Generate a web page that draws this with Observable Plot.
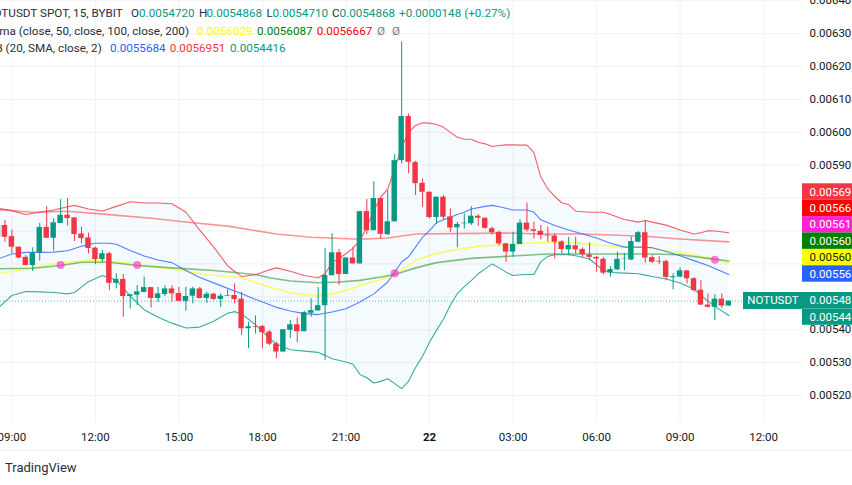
<!DOCTYPE html>
<html>
<head>
<meta charset="utf-8">
<script src="https://cdn.jsdelivr.net/npm/d3@7"></script>
<script src="https://cdn.jsdelivr.net/npm/@observablehq/plot@0.6"></script>
<style>
html,body{margin:0;padding:0;background:#fff;overflow:hidden;width:852px;height:485px}
#wrap{position:relative;width:852px;height:485px;overflow:hidden;font-family:Roboto,sans-serif}
.t{position:absolute;white-space:nowrap;font-size:11.7px;line-height:14px;color:#2a2e39}
</style>
</head>
<body>
<div id="wrap"></div>
<script>
// Prices are in millionths of USDT; one entry per 15-minute bar.
const opens = [5681,5717,5683,5651,5620,5595,5633,5711,5678,5723,5748,5740,5691,5679,5648,5613,5631,5541,5553,5501,5505,5513,5528,5495,5507,5524,5510,5486,5502,5524,5495,5508,5492,5502,5504,5493,5403,5410,5410,5393,5357,
5332,5398,5415,5394,5450,5457,5473,5564,5634,5568,5618,5600,5759,5701,5799,5689,5728,5914,6048,5908,5845,5818,5741,5803,5743,
5710,5722,5722,5745,5739,5707,5696,5661,5636,5659,5724,5704,5699,5687,5685,5667,5643,5655,5644,5627,5620,5614,5573,5582,5614,5612,5666,5695,5619,5608,5607,5558,5560,5579,5555,5520,5475,5468,5493,5472];
const highs = [5727,5732,5703,5651,5625,5649,5723,5774,5737,5795,5799,5740,5712,5694,5651,5641,5635,5570,5568,5506,5534,5560,5528,5529,5534,5534,5529,5529,5529,5529,5514,5511,5509,5521,5539,5514,5423,5442,5413,5397,5362,
5400,5428,5436,5456,5494,5528,5646,5692,5644,5618,5651,5759,5796,5850,5799,5823,5932,6275,6056,5912,5858,5818,5803,5808,5767,
5727,5752,5774,5750,5739,5712,5699,5661,5696,5734,5785,5727,5717,5712,5691,5671,5681,5681,5649,5664,5622,5620,5592,5636,5632,5681,5699,5732,5625,5622,5612,5570,5588,5580,5559,5549,5509,5507,5509,5487];
const lows = [5661,5666,5631,5615,5595,5577,5608,5678,5639,5723,5715,5668,5661,5630,5598,5605,5519,5524,5438,5463,5473,5513,5466,5483,5501,5484,5486,5456,5478,5493,5480,5489,5468,5501,5478,5382,5343,5387,5342,5352,5311,
5332,5373,5360,5394,5438,5457,5307,5564,5535,5568,5600,5600,5689,5701,5676,5686,5728,5904,5874,5808,5772,5737,5720,5732,5696,
5649,5706,5717,5714,5706,5688,5654,5605,5620,5659,5697,5676,5673,5666,5615,5631,5625,5630,5620,5610,5575,5567,5560,5580,5580,5610,5664,5602,5602,5598,5549,5521,5558,5539,5514,5473,5466,5428,5465,5471];
const closes = [5717,5681,5651,5618,5595,5632,5711,5678,5725,5748,5738,5689,5677,5647,5613,5631,5541,5553,5501,5506,5515,5528,5495,5509,5524,5509,5486,5501,5524,5495,5508,5492,5502,5504,5492,5403,5409,5408,5391,5356,5332,
5400,5415,5394,5452,5458,5473,5565,5634,5568,5618,5600,5759,5701,5799,5690,5728,5914,6048,5909,5844,5818,5741,5803,5742,5709,
5720,5724,5745,5739,5708,5695,5661,5636,5659,5724,5703,5699,5687,5685,5666,5644,5656,5643,5628,5620,5615,5572,5583,5614,5615,5668,5695,5618,5605,5606,5559,5561,5579,5555,5519,5475,5468,5493,5472,5487];

// Bollinger bands, read at these bars
const bandBars = [0,2,4,6,8,10,11,13,15,17,19,21,23,25,27,29,31,33,34,35,37,39,40,42,44,46,47,48,50,51,52,53,54,55,56,57,58,59,60,61,62,63,64,65,66,67,68,69,70,71,72,73,74,75,76,77,78,79,80,81,82,83,85,87,88,90,92,93,94,96,98,100,101,102,103,105];
const upperBand = [5769,5762,5750,5757,5764,5774,5778,5767,5761,5775,5789,5785,5785,5783,5757,5703,5651,5595,5577,5562,5567,5582,5588,5578,5565,5558,5570,5604,5631,5648,5671,5712,5762,5803,5828,5889,5955,6000,6021,6029,6028,6024,6016,6000,5985,5979,5979,5970,5965,5957,5960,5962,5962,5961,5961,5938,5864,5828,5805,5786,5780,5760,5757,5757,5750,5735,5727,5732,5727,5718,5703,5691,5695,5701,5700,5695];
const lowerBand = [5466,5504,5516,5515,5513,5509,5513,5546,5565,5551,5502,5461,5438,5420,5405,5408,5426,5450,5455,5448,5415,5374,5356,5339,5335,5331,5322,5312,5302,5295,5264,5254,5238,5243,5251,5236,5221,5244,5285,5319,5362,5398,5432,5475,5510,5531,5549,5570,5585,5600,5588,5575,5565,5567,5568,5568,5607,5623,5628,5628,5628,5625,5615,5580,5574,5572,5570,5566,5562,5554,5542,5524,5504,5487,5471,5443];
const basisBars = [0,2,4,6,8,10,12,14,16,17,19,21,23,25,27,29,32,35,38,40,42,44,46,48,50,52,54,56,58,59,60,61,62,63,64,65,66,67,68,70,71,72,73,74,76,77,78,80,82,84,86,88,90,92,93,94,96,98,100,102,104,105];
const basisBand = [5615,5630,5635,5635,5636,5640,5654,5663,5663,5660,5641,5624,5612,5604,5580,5559,5534,5509,5484,5468,5457,5449,5446,5454,5464,5484,5509,5545,5606,5622,5651,5681,5701,5725,5734,5742,5750,5757,5767,5775,5778,5774,5769,5764,5764,5757,5734,5717,5703,5691,5679,5663,5651,5651,5651,5649,5638,5625,5610,5595,5577,5568];

// Moving averages
const yellowBars = [0,2,5,8,11,13,17,21,25,30,35,39,42,46,48,50,53,56,58,60,63,66,69,73,78,83,87,90,93,96,100,103,105];
const yellowMA = [5570,5577,5588,5598,5607,5611,5607,5595,5585,5567,5558,5530,5512,5503,5509,5520,5540,5560,5582,5611,5632,5644,5654,5659,5665,5664,5656,5651,5651,5641,5628,5612,5603];
const greenBars = [0,5,9,12,16,20,25,31,37,39,42,46,49,52,55,57,60,63,68,73,79,84,90,94,98,102,105];
const greenMA = [5585,5587,5595,5605,5605,5595,5588,5580,5568,5558,5548,5543,5545,5550,5560,5568,5588,5604,5617,5623,5630,5630,5630,5630,5628,5617,5609];
const redBars = [0,5,10,16,22,28,33,40,45,52,56,60,69,73,78,84,93,98,105];
const redMA = [5765,5757,5760,5750,5739,5725,5715,5691,5681,5675,5679,5691,5693,5694,5691,5691,5684,5676,5667];

// Crossing markers
const crossBars = [9,20,57,103];
const crossPrices = [5597,5597,5572,5613];

// Axes
const gridPrices = [5200,5300,5400,5500,5600,5700,5800,5900,6000,6100,6200,6300,6400];
const labelledPrices = [5200,5300,5400,5900,6000,6100,6200,6300,6400];
const timeBars = [2,14,26,38,50,74,86,98,110];
const timeLabels = ["09:00","12:00","15:00","18:00","21:00","03:00","06:00","09:00","12:00"];
const dayBar = 62, dayLabel = "22";
const lastPrice = 5487;

// Price tags on the right-hand scale (as far as the picture shows them)
const tagValues = ["0.00569","0.00566","0.00561","0.00560","0.00560","0.00556"];
const lowerTagValues = ["0.00548","0.00544"];
const tagNames = ["NOTUSDT"];

const GREEN = "#089981", RED = "#F23645";
const unit = 1e-6;
const pane = {left:0, right:802, top:0, bottom:423};
const xDomain = [0.362, 115.59], priceTop = 6400.8*unit, priceBottom = 5114.9*unit;
const kAt = px => xDomain[0] + (xDomain[1]-xDomain[0]) * px / pane.right;
const priceAt = px => priceTop + (priceBottom-priceTop) * px / pane.bottom;

const bars = opens.map((o,k)=>({k, o:o*unit, h:highs[k]*unit, l:lows[k]*unit, c:closes[k]*unit, col: closes[k]>=o?GREEN:RED}));
const zip = (xs,ys)=>xs.map((k,i)=>({k, v:ys[i]*unit}));
const bands = bandBars.map((k,i)=>({k, u:upperBand[i]*unit, l:lowerBand[i]*unit}));

const topTagTop = 183.3, tagH = 16.4, lowTagTop = 292;
const tags = [
  ...tagValues.map((t,i)=>({t, top:topTagTop+i*tagH, fill:[RED,"#FF0000","#FF22D0","#008000","#FFFF00","#2962FF"][i], ink:i===4?"#131722":"#fff"})),
  ...lowerTagValues.map((t,i)=>({t, top:lowTagTop+i*tagH, fill:GREEN, ink:"#fff"}))
];

const chart = Plot.plot({
  width:852, height:485,
  marginLeft:0, marginRight:50, marginTop:0, marginBottom:62,
  style:{fontFamily:"Roboto, sans-serif", background:"transparent", overflow:"hidden"},
  x:{type:"linear", domain:xDomain, axis:null},
  y:{type:"linear", domain:[priceBottom, priceTop], axis:null},
  marks:[
    Plot.ruleY(gridPrices.map(p=>p*unit),{stroke:"#f0f1f4",strokeWidth:1}),
    Plot.ruleX([...timeBars,dayBar],{stroke:"#f0f1f4",strokeWidth:1}),
    Plot.areaY(bands,{x:"k",y1:"u",y2:"l",fill:"#2196F3",fillOpacity:0.05}),
    Plot.ruleY([lastPrice*unit],{stroke:GREEN,strokeDasharray:"1 2",strokeOpacity:0.7}),
    Plot.line(zip(redBars,redMA),{x:"k",y:"v",stroke:"#FF0000",strokeOpacity:0.42,strokeWidth:1.6}),
    Plot.line(zip(yellowBars,yellowMA),{x:"k",y:"v",stroke:"#FFFF00",strokeOpacity:0.6,strokeWidth:1.6}),
    Plot.line(zip(greenBars,greenMA),{x:"k",y:"v",stroke:"#008000",strokeOpacity:0.48,strokeWidth:1.6}),
    Plot.line(zip(bandBars,upperBand),{x:"k",y:"v",stroke:RED,strokeOpacity:0.8,strokeWidth:1.1}),
    Plot.line(zip(bandBars,lowerBand),{x:"k",y:"v",stroke:GREEN,strokeOpacity:0.8,strokeWidth:1.1}),
    Plot.line(zip(basisBars,basisBand),{x:"k",y:"v",stroke:"#2962FF",strokeOpacity:0.8,strokeWidth:1.1}),
    Plot.ruleX(bars,{x:"k",y1:"l",y2:"h",stroke:"col",strokeWidth:1}),
    Plot.rect(bars,{x1:d=>d.k-0.39,x2:d=>d.k+0.39,y1:"o",y2:"c",fill:"col"}),
    Plot.dot(zip(crossBars,crossPrices),{x:"k",y:"v",r:4,fill:"#FF22D0",fillOpacity:0.6}),
    Plot.text(labelledPrices,{x:()=>kAt(809),y:p=>p*unit,text:p=>(p*unit).toFixed(5),textAnchor:"start",fontSize:11.5,fill:"#131722"}),
    Plot.rect(tags,{x1:()=>kAt(802),x2:()=>kAt(852),y1:d=>priceAt(d.top),y2:d=>priceAt(d.top+tagH),fill:"fill"}),
    Plot.text(tags,{x:()=>kAt(809),y:d=>priceAt(d.top+tagH/2),text:"t",textAnchor:"start",fontSize:11.5,fill:"ink"}),
    Plot.rect(tagNames,{x1:()=>kAt(743),x2:()=>kAt(802),y1:()=>priceAt(lowTagTop),y2:()=>priceAt(lowTagTop+tagH+0.6),fill:GREEN}),
    Plot.text(tagNames,{x:()=>kAt(772.5),y:()=>priceAt(lowTagTop+tagH/2),text:d=>d,fontSize:11.5,fill:"#fff"}),
    Plot.text(timeBars,{x:d=>d,frameAnchor:"bottom",lineAnchor:"middle",dy:14,text:(d,i)=>timeLabels[i],fontSize:11.5,fill:"#131722"}),
    Plot.text([dayBar],{x:d=>d,frameAnchor:"bottom",lineAnchor:"middle",dy:14,text:()=>dayLabel,fontSize:11.5,fontWeight:"bold",fill:"#131722"})
  ]
});
const wrap = document.getElementById("wrap");
wrap.appendChild(chart);

// Legend and footer text (as far as the picture shows them)
const legend = [
  {y:6, end:122.7, s:"OTUSDT SPOT, 15, BYBIT"},
  {y:6, x:131, s:"O"},{y:6, x:139, s:"0.0054720", c:GREEN},
  {y:6, x:199, s:"H"},{y:6, x:206.5, s:"0.0054868", c:GREEN},
  {y:6, x:266.5, s:"L"},{y:6, x:272.5, s:"0.0054710", c:GREEN},
  {y:6, x:332, s:"C"},{y:6, x:339.5, s:"0.0054868", c:GREEN},
  {y:6, x:399, s:"+0.0000148 (+0.27%)", c:GREEN},
  {y:23.5, end:189, s:"ma (close, 50, close, 100, close, 200)"},
  {y:23.5, x:197, s:"0.0056029", c:"#FFFF00"},
  {y:23.5, x:257, s:"0.0056087", c:"#008000"},
  {y:23.5, x:316.7, s:"0.0056667", c:"#FF0000"},
  {y:23.5, x:377, s:"Ø", c:"#787b86"},{y:23.5, x:392, s:"Ø", c:"#787b86"},
  {y:40.5, end:101.7, s:"B (20, SMA, close, 2)"},
  {y:40.5, x:110, s:"0.0055684", c:"#2962FF"},
  {y:40.5, x:169.7, s:"0.0056951", c:RED},
  {y:40.5, x:230, s:"0.0054416", c:GREEN},
  {y:461, x:5, s:"TradingView", size:"13px"}
];
for (const e of legend) {
  const el = document.createElement("div");
  el.className = "t";
  el.textContent = e.s;
  el.style.top = e.y+"px";
  if (e.end!==undefined) el.style.right = (852-e.end)+"px"; else el.style.left = e.x+"px";
  if (e.c) el.style.color = e.c;
  if (e.size) el.style.fontSize = e.size;
  wrap.appendChild(el);
}
const line = document.createElement("div");
line.style.cssText = "position:absolute;left:0;right:0;top:450px;height:1px;background:#eeeff3";
wrap.appendChild(line);
</script>
</body>
</html>
